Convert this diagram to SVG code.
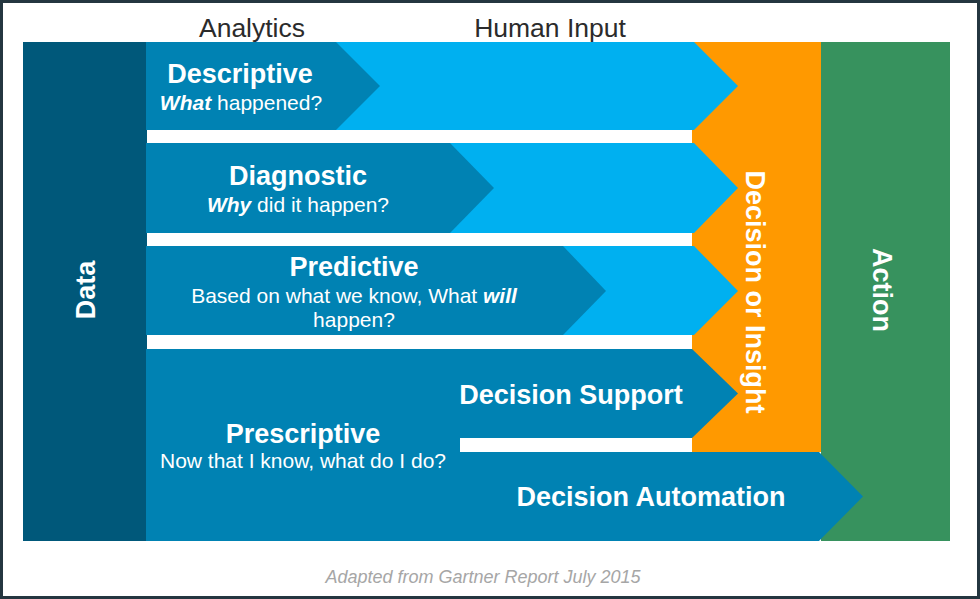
<svg xmlns="http://www.w3.org/2000/svg" width="980" height="599" viewBox="0 0 980 599">
  <style>
    text { font-family: "Liberation Sans", Arial, sans-serif; }
    .hdr { font-size: 26.5px; fill: #2b2b2b; text-anchor: middle; }
    .ttl { font-size: 27px; font-weight: bold; fill: #ffffff; text-anchor: middle; }
    .sub { font-size: 21px; fill: #ffffff; text-anchor: middle; }
    .em { font-weight: bold; font-style: italic; }
    .dark { fill: #0082b3; }
    .light { fill: #00b0f0; }
    .note { font-size: 18px; font-style: italic; fill: #a6a6a6; text-anchor: middle; }
  </style>
  <rect x="1.5" y="1.5" width="977" height="596" fill="#ffffff" stroke="#243640" stroke-width="3"/>

  <g id="headers">
    <text class="hdr" x="252" y="37">Analytics</text>
    <text class="hdr" x="550" y="37">Human Input</text>
  </g>

  <g id="data">
    <rect x="23" y="42" width="124" height="499" fill="#00587a"/>
    <text class="ttl" transform="translate(95,290) rotate(-90)" x="0" y="0">Data</text>
  </g>

  <g id="decision-or-insight">
    <rect x="692" y="42" width="129" height="410" fill="#ff9900"/>
    <text class="ttl" transform="translate(746,292) rotate(90)" x="0" y="0">Decision or Insight</text>
  </g>

  <g id="action">
    <rect x="821" y="42" width="129" height="499" fill="#37925e"/>
    <text class="ttl" transform="translate(873,290) rotate(90)" x="0" y="0">Action</text>
  </g>

  <g id="human-input-rows">
    <polygon class="light" points="146,42 694,42 738,86 694,130 146,130"/>
    <polygon class="light" points="146,143 694,143 738,188 694,233 146,233"/>
    <polygon class="light" points="146,246 694,246 738,291 694,335 146,335"/>
  </g>

  <g id="descriptive">
    <polygon class="dark" points="146,42 336,42 380,86 336,130 146,130"/>
    <text class="ttl" x="240" y="83">Descriptive</text>
    <text class="sub" x="241" y="110"><tspan class="em">What</tspan> happened?</text>
  </g>

  <g id="diagnostic">
    <polygon class="dark" points="146,143 450,143 494,188 450,233 146,233"/>
    <text class="ttl" x="298" y="185">Diagnostic</text>
    <text class="sub" x="298" y="212"><tspan class="em">Why</tspan> did it happen?</text>
  </g>

  <g id="predictive">
    <polygon class="dark" points="146,246 563,246 606,291 563,335 146,335"/>
    <text class="ttl" x="354" y="276">Predictive</text>
    <text class="sub" x="354" y="303">Based on what we know, What <tspan class="em">will</tspan></text>
    <text class="sub" x="354" y="327">happen?</text>
  </g>

  <g id="prescriptive">
    <rect class="dark" x="146" y="349" width="314" height="192"/>
    <text class="ttl" x="303" y="443">Prescriptive</text>
    <text class="sub" x="303" y="468">Now that I know, what do I do?</text>
  </g>

  <g id="decision-support">
    <polygon class="dark" points="459,349 692,349 738,393.5 692,438 459,438"/>
    <text class="ttl" x="571" y="404">Decision Support</text>
  </g>

  <g id="decision-automation">
    <polygon class="dark" points="459,452 819,452 863,496.5 819,541 459,541"/>
    <text class="ttl" x="651" y="506">Decision Automation</text>
  </g>

  <g id="connectors"></g>

  <text class="note" x="483" y="583">Adapted from Gartner Report July 2015</text>
</svg>
